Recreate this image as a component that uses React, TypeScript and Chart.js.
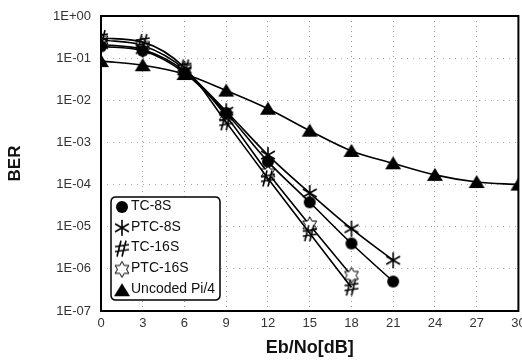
import React, { useEffect, useRef } from "react";
import { Chart, registerables } from "chart.js";

Chart.register(...registerables);

const xCoded8 = [0, 3, 6, 9, 12, 15, 18, 21];
const xCoded16 = [0, 3, 6, 9, 12, 15, 18];
const xUncoded = [0, 3, 6, 9, 12, 15, 18, 21, 24, 27, 30];

const tc8s = [0.19, 0.15, 0.045, 0.005, 3.5e-4, 3.8e-5, 4e-6, 5e-7];
const ptc8s = [0.21, 0.16, 0.05, 0.0055, 5e-4, 6.3e-5, 9e-6, 1.6e-6];
const tc16s = [0.3, 0.24, 0.06, 0.003, 1.4e-4, 7e-6, 3.6e-7];
const ptc16s = [0.27, 0.2, 0.055, 0.0042, 1.9e-4, 1.1e-5, 7e-7];
const uncoded = [0.085, 0.068, 0.042, 0.017, 0.0063, 0.0019, 6.3e-4, 3.2e-4, 1.7e-4, 1.15e-4, 1e-4];

const seriesNames = ["TC-8S", "PTC-8S", "TC-16S", "PTC-16S", "Uncoded Pi/4"];

const xTicks = [0, 3, 6, 9, 12, 15, 18, 21, 24, 27, 30];
const yTicks = [1, 1e-1, 1e-2, 1e-3, 1e-4, 1e-5, 1e-6, 1e-7];
const yTickLabels = ["1E+00", "1E-01", "1E-02", "1E-03", "1E-04", "1E-05", "1E-06", "1E-07"];

function makeMarker(size: number, draw: (ctx: CanvasRenderingContext2D, c: number) => void) {
  const cv = document.createElement("canvas");
  cv.width = size;
  cv.height = size;
  const ctx = cv.getContext("2d")!;
  draw(ctx, size / 2);
  return cv;
}

function buildMarkers() {
  const circle = makeMarker(14, (ctx, c) => {
    ctx.fillStyle = "#000";
    ctx.beginPath();
    ctx.arc(c, c, 6, 0, Math.PI * 2);
    ctx.fill();
  });
  const asterisk = makeMarker(18, (ctx, c) => {
    ctx.strokeStyle = "#000";
    ctx.lineWidth = 1.6;
    ctx.beginPath();
    for (let i = 0; i < 3; i++) {
      const a = Math.PI / 2 + (i * Math.PI) / 3;
      const dx = Math.cos(a) * 8;
      const dy = Math.sin(a) * 8;
      ctx.moveTo(c - dx, c - dy);
      ctx.lineTo(c + dx, c + dy);
    }
    ctx.stroke();
  });
  const hash = makeMarker(18, (ctx, c) => {
    ctx.strokeStyle = "#000";
    ctx.lineWidth = 1.6;
    ctx.beginPath();
    ctx.moveTo(c - 1, c - 8);
    ctx.lineTo(c - 5, c + 8);
    ctx.moveTo(c + 4, c - 8);
    ctx.lineTo(c + 0, c + 8);
    ctx.moveTo(c - 7, c - 2);
    ctx.lineTo(c + 7, c - 4);
    ctx.moveTo(c - 7, c + 3);
    ctx.lineTo(c + 7, c + 1);
    ctx.stroke();
  });
  const openStar = makeMarker(18, (ctx, c) => {
    ctx.strokeStyle = "#000";
    ctx.fillStyle = "#fff";
    ctx.lineWidth = 1;
    ctx.beginPath();
    for (let i = 0; i < 12; i++) {
      const a = -Math.PI / 2 + (i * Math.PI) / 6;
      const r = i % 2 === 0 ? 8 : 4.5;
      const px = c + Math.cos(a) * r;
      const py = c + Math.sin(a) * r;
      if (i === 0) ctx.moveTo(px, py);
      else ctx.lineTo(px, py);
    }
    ctx.closePath();
    ctx.fill();
    ctx.stroke();
  });
  const triangle = makeMarker(18, (ctx, c) => {
    ctx.fillStyle = "#000";
    ctx.beginPath();
    ctx.moveTo(c, c - 7);
    ctx.lineTo(c + 8, c + 6);
    ctx.lineTo(c - 8, c + 6);
    ctx.closePath();
    ctx.fill();
  });
  return [circle, asterisk, hash, openStar, triangle];
}

export default function App() {
  const ref = useRef<HTMLCanvasElement | null>(null);

  useEffect(() => {
    document.body.style.margin = "0";
    const markers = buildMarkers();
    const mk = (xs: number[], ys: number[]) => xs.map((x, i) => ({ x, y: ys[i] }));
    const sets = [
      mk(xCoded8, tc8s),
      mk(xCoded8, ptc8s),
      mk(xCoded16, tc16s),
      mk(xCoded16, ptc16s),
      mk(xUncoded, uncoded),
    ];

    const framePlugin = {
      id: "frame",
      afterDraw(chart: any) {
        const { ctx, chartArea: a } = chart;
        ctx.save();
        ctx.strokeStyle = "#000";
        ctx.lineWidth = 2;
        ctx.strokeRect(a.left, a.top, a.right - a.left, a.bottom - a.top);

        // legend box
        const lx = 111, ly = 197, lw = 109, lh = 103, r = 5;
        ctx.beginPath();
        ctx.moveTo(lx + r, ly);
        ctx.lineTo(lx + lw - r, ly);
        ctx.quadraticCurveTo(lx + lw, ly, lx + lw, ly + r);
        ctx.lineTo(lx + lw, ly + lh - r);
        ctx.quadraticCurveTo(lx + lw, ly + lh, lx + lw - r, ly + lh);
        ctx.lineTo(lx + r, ly + lh);
        ctx.quadraticCurveTo(lx, ly + lh, lx, ly + lh - r);
        ctx.lineTo(lx, ly + r);
        ctx.quadraticCurveTo(lx, ly, lx + r, ly);
        ctx.closePath();
        ctx.fillStyle = "#fff";
        ctx.fill();
        ctx.lineWidth = 1.5;
        ctx.stroke();
        ctx.font = "14px 'Liberation Sans', Arial, sans-serif";
        ctx.fillStyle = "#111";
        ctx.textBaseline = "middle";
        ctx.textAlign = "left";
        seriesNames.forEach((name, i) => {
          const yy = 206 + i * 20.8;
          const m = markers[i];
          ctx.drawImage(m, 122 - m.width / 2, yy + 1 - m.height / 2);
          ctx.fillText(name, 131, yy);
        });
        ctx.restore();
      },
    };

    const chart = new Chart(ref.current!, {
      type: "line",
      data: {
        datasets: sets.map((d, i) => ({
          label: seriesNames[i],
          data: d,
          borderColor: "#000",
          backgroundColor: "#000",
          borderWidth: 1.6,
          pointStyle: markers[i] as any,
          pointRadius: 7,
          cubicInterpolationMode: "monotone" as const,
          fill: false,
        })),
      },
      options: {
        animation: false,
        responsive: false,
        maintainAspectRatio: false,
        devicePixelRatio: 1,
        layout: { padding: { top: 16, right: 0, left: 0, bottom: 0 } },
        plugins: { legend: { display: false }, tooltip: { enabled: false } },
        scales: {
          x: {
            type: "linear",
            min: 0,
            max: 30,
            afterBuildTicks: (s: any) => {
              s.ticks = xTicks.map((v) => ({ value: v }));
            },
            afterFit: (s: any) => {
              s.height = 49;
              s.paddingLeft = 0;
              s.paddingRight = 0;
            },
            ticks: {
              font: { family: "'Liberation Sans', Arial, sans-serif", size: 13 },
              color: "#333",
              padding: 5,
              maxRotation: 0,
              autoSkip: false,
            },
            grid: { color: "#999", drawTicks: false, lineWidth: 1 },
            border: { display: false, dash: [1, 4] },
            title: {
              display: true,
              text: "Eb/No[dB]",
              font: { family: "'Liberation Sans', Arial, sans-serif", size: 18, weight: "bold" },
              color: "#111",
              padding: { top: 0, bottom: 1 },
            },
          },
          y: {
            type: "logarithmic",
            min: 1e-7,
            max: 1,
            afterBuildTicks: (s: any) => {
              s.ticks = yTicks.map((v) => ({ value: v }));
            },
            afterFit: (s: any) => {
              s.width = 101;
              s.paddingTop = 0;
              s.paddingBottom = 0;
            },
            ticks: {
              font: { family: "'Liberation Sans', Arial, sans-serif", size: 13 },
              color: "#333",
              padding: 10,
              autoSkip: false,
              callback: (v: any) => {
                const idx = yTicks.findIndex((t) => Math.abs(Math.log10(t) - Math.log10(v)) < 1e-6);
                return idx >= 0 ? yTickLabels[idx] : "";
              },
            },
            grid: { color: "#aaa", drawTicks: false, lineWidth: 1 },
            border: { display: false, dash: [1, 5] },
            title: {
              display: true,
              text: "BER",
              font: { family: "'Liberation Sans', Arial, sans-serif", size: 17, weight: "bold" },
              color: "#111",
              padding: { top: 5, bottom: 0 },
            },
          },
        },
      },
      plugins: [framePlugin],
    });
    // widen the canvas (clipped by the outer box) so the plot's right edge lands where the reference has it
    const diff = Math.round(518 - chart.chartArea.right);
    if (diff !== 0) chart.resize(522 + diff, 360);
    return () => chart.destroy();
  }, []);

  return (
    <div style={{ position: "fixed", left: 0, top: 0, width: 522, height: 360, overflow: "hidden" }}>
      <div style={{ width: 600, height: 360 }}>
        <canvas ref={ref} width={522} height={360} />
      </div>
    </div>
  );
}
